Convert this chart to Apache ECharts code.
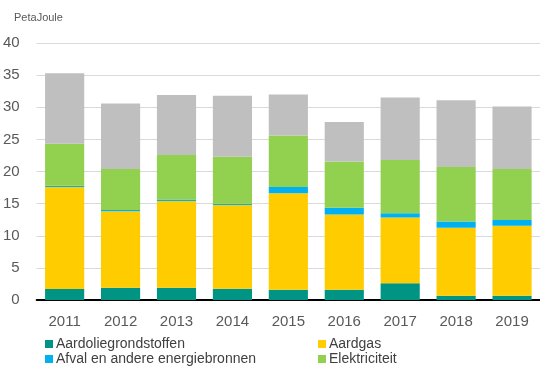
<!DOCTYPE html>
<html>
<head>
<meta charset="utf-8">
<script src="https://cdn.jsdelivr.net/npm/echarts@6/dist/echarts.min.js"></script>
<style>
  html, body { margin: 0; padding: 0; background: #fff; }
  #chart { width: 540px; height: 368px; }
</style>
</head>
<body>
<div id="chart"></div>
<script>
// Energy use by source, PetaJoule
const years = ['2011', '2012', '2013', '2014', '2015', '2016', '2017', '2018', '2019'];
const aardolie = [1.7, 1.9, 1.9, 1.75, 1.6, 1.6, 2.6, 0.65, 0.65];
const aardgas = [15.9, 11.9, 13.5, 13.05, 15.0, 11.7, 10.25, 10.6, 10.9];
const afval = [0.2, 0.2, 0.25, 0.2, 1.0, 1.05, 0.65, 0.95, 0.9];
const elektriciteit = [6.5, 6.4, 6.9, 7.3, 8.0, 7.2, 8.3, 8.5, 7.95];
const warmte = [11.0, 10.2, 9.35, 9.5, 6.4, 6.15, 9.7, 10.4, 9.7];
const yTicks = [0, 5, 10, 15, 20, 25, 30, 35, 40];

const font = 'Liberation Sans, Arial, sans-serif';
const chart = echarts.init(document.getElementById('chart'));

function bar(name, data, color) {
  return {
    name: name,
    type: 'bar',
    stack: 'total',
    barWidth: '70%',
    data: data,
    itemStyle: { color: color },
    emphasis: { disabled: true }
  };
}

const legendText = { fontFamily: font, fontSize: 14, lineHeight: 14, color: '#404040', padding: [0, 0, 0, -2] };

function legendColumn(names, left) {
  return {
    data: names,
    orient: 'vertical', left: left, top: 337,
    itemWidth: 8, itemHeight: 8, itemGap: 1,
    icon: 'rect', padding: 0,
    textStyle: legendText
  };
}

chart.setOption({
  animation: false,
  textStyle: { fontFamily: font },
  grid: { left: 35, right: -8, top: 43, bottom: 68 },
  title: {
    text: 'PetaJoule',
    left: 9, top: 7,
    textStyle: { fontFamily: font, fontSize: 11, fontWeight: 'normal', color: '#595959' }
  },
  legend: [
    legendColumn(['Aardoliegrondstoffen', 'Afval en andere energiebronnen'], 45),
    legendColumn(['Aardgas', 'Elektriciteit'], 318)
  ],
  xAxis: {
    type: 'category',
    data: years,
    axisLine: { lineStyle: { color: '#000', width: 2 } },
    axisTick: { show: false },
    axisLabel: { fontFamily: font, fontSize: 15, color: '#595959', margin: 14 }
  },
  yAxis: {
    type: 'value',
    min: yTicks[0],
    max: yTicks[yTicks.length - 1],
    interval: 5,
    axisLine: { show: false },
    axisTick: { show: false },
    axisLabel: { fontFamily: font, fontSize: 15, color: '#595959', margin: 17 },
    splitLine: { lineStyle: { color: '#d9d9d9', width: 1 } }
  },
  series: [
    bar('Aardoliegrondstoffen', aardolie, '#009485'),
    bar('Aardgas', aardgas, '#ffcc00'),
    bar('Afval en andere energiebronnen', afval, '#00b0f0'),
    bar('Elektriciteit', elektriciteit, '#92d050'),
    bar('Warmte', warmte, '#bfbfbf')
  ]
});
</script>
</body>
</html>
